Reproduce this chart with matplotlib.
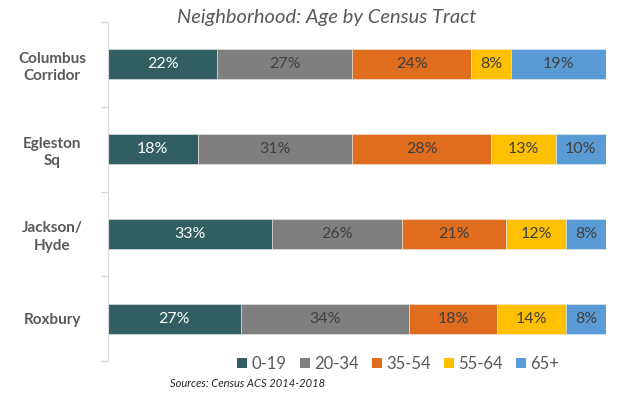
import numpy as np
import matplotlib.pyplot as plt
from matplotlib.ticker import FixedLocator
from matplotlib.patches import Patch

plt.rcParams['font.family'] = ['Lato', 'DejaVu Sans']

# data
neighborhoods = ['Columbus\nCorridor', 'Egleston\nSq', 'Jackson/\nHyde', 'Roxbury']
age_groups = ['0-19', '20-34', '35-54', '55-64', '65+']
age_0_19 = [22, 18, 33, 27]
age_20_34 = [27, 31, 26, 34]
age_35_54 = [24, 28, 21, 18]
age_55_64 = [8, 13, 12, 14]
age_65_plus = [19, 10, 8, 8]

colors = ['#305E63', '#7F7F7F', '#E06C1D', '#FFC000', '#5B9BD5']
label_colors = ['white', '#404040', '#404040', '#404040', '#404040']
txt_gray = '#595959'

series = np.array([age_0_19, age_20_34, age_35_54, age_55_64, age_65_plus], dtype=float)
# 100% stacked like the original excel chart
shares = series / series.sum(axis=0) * 100

fig = plt.figure(figsize=(6.31, 3.99), dpi=100)
ax = fig.add_axes([0.171, 0.095, 0.789, 0.850])

y = np.arange(len(neighborhoods))
left = np.zeros(len(neighborhoods))
for i, grp in enumerate(age_groups):
    bars = ax.barh(y, shares[i], left=left, height=0.355, color=colors[i],
                   edgecolor='#e8e8e8', linewidth=0.4, label=grp)
    for j, b in enumerate(bars):
        ax.text(left[j] + shares[i][j] / 2, y[j], f'{int(series[i][j])}%',
                ha='center', va='center', fontsize=11.5, color=label_colors[i])
    left += shares[i]

ax.set_xlim(0, 100)
ax.set_ylim(len(neighborhoods) - 0.5, -0.5)
ax.set_xticks([])
ax.set_yticks(y)
ax.set_yticklabels(neighborhoods, fontsize=11, fontweight='bold', color=txt_gray,
                   ha='center', linespacing=1.3)
ax.tick_params(axis='y', which='major', length=0, pad=40)
ax.yaxis.set_minor_locator(FixedLocator(np.arange(-0.5, len(neighborhoods), 1)))
ax.tick_params(axis='y', which='minor', length=5, color='#d9d9d9', width=1)
for s in ['top', 'right', 'bottom']:
    ax.spines[s].set_visible(False)
ax.spines['left'].set_color('#d9d9d9')

fig.text(0.517, 0.955, 'Neighborhood: Age by Census Tract', ha='center', va='center',
         fontsize=14.5, style='italic', color=txt_gray)

handles = [Patch(facecolor=c) for c in colors]
fig.legend(handles, age_groups, loc='center', bbox_to_anchor=(0.631, 0.088), ncol=5,
           frameon=False, fontsize=12, labelcolor=txt_gray, handlelength=0.6,
           handleheight=0.6, handletextpad=0.25, columnspacing=0.8)

fig.text(0.27, 0.04, 'Sources: Census ACS 2014-2018', ha='left', va='center',
         fontsize=8, style='italic', color='#262626')

fig.savefig('out.png', dpi=100)
